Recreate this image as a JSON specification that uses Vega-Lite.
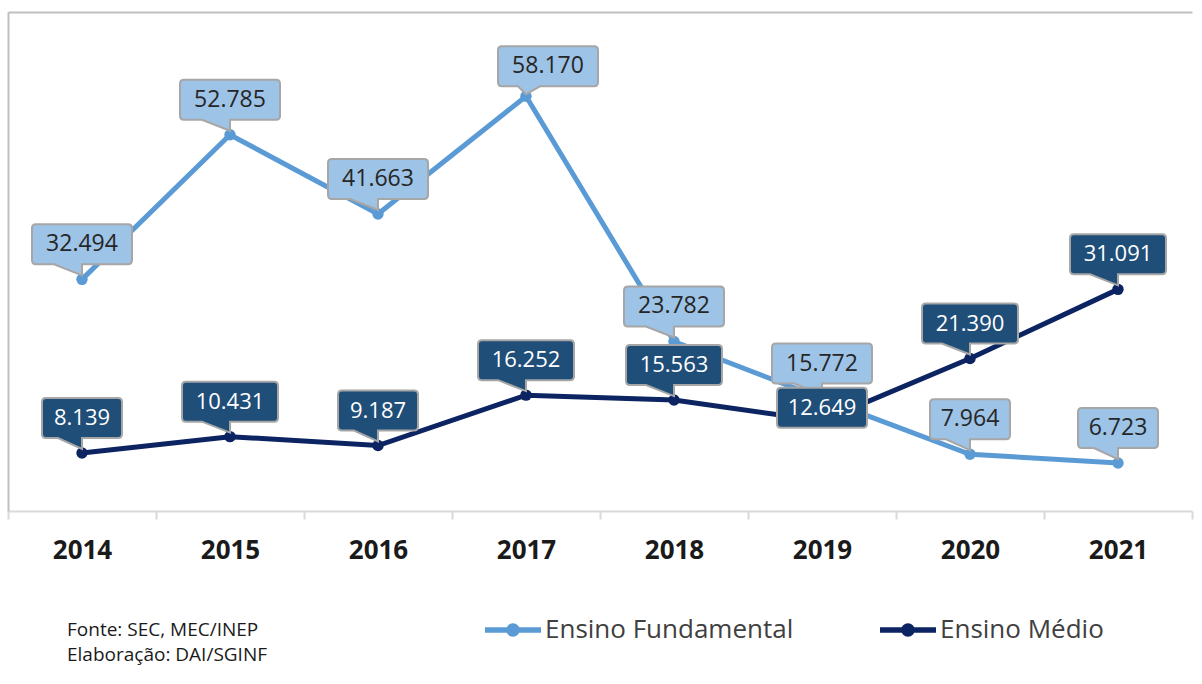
{
  "$schema": "https://vega.github.io/schema/vega-lite/v6.json",
  "width": 1184,
  "height": 499,
  "autosize": {"type": "none"},
  "padding": {"left": 8, "top": 12, "right": 10, "bottom": 173},
  "background": "white",
  "config": {
    "font": "Open Sans",
    "view": {"stroke": null},
    "locale": {"number": {"decimal": ",", "thousands": ".", "grouping": [3], "currency": ["R$", ""]}}
  },
  "title": {
    "text": ["Fonte: SEC, MEC/INEP", "Elaboração: DAI/SGINF"],
    "orient": "bottom",
    "anchor": "start",
    "frame": "group",
    "dx": 59,
    "offset": -22,
    "fontSize": 19,
    "fontWeight": "normal",
    "lineHeight": 25,
    "color": "#1a1a1a",
    "font": "Open Sans"
  },
  "data": {
    "values": [
      {"ano": "2014", "serie": "Ensino Fundamental", "v": 32494},
      {"ano": "2015", "serie": "Ensino Fundamental", "v": 52785},
      {"ano": "2016", "serie": "Ensino Fundamental", "v": 41663},
      {"ano": "2017", "serie": "Ensino Fundamental", "v": 58170},
      {"ano": "2018", "serie": "Ensino Fundamental", "v": 23782},
      {"ano": "2019", "serie": "Ensino Fundamental", "v": 15772},
      {"ano": "2020", "serie": "Ensino Fundamental", "v": 7964},
      {"ano": "2021", "serie": "Ensino Fundamental", "v": 6723},
      {"ano": "2014", "serie": "Ensino Médio", "v": 8139},
      {"ano": "2015", "serie": "Ensino Médio", "v": 10431},
      {"ano": "2016", "serie": "Ensino Médio", "v": 9187},
      {"ano": "2017", "serie": "Ensino Médio", "v": 16252},
      {"ano": "2018", "serie": "Ensino Médio", "v": 15563},
      {"ano": "2019", "serie": "Ensino Médio", "v": 12649},
      {"ano": "2020", "serie": "Ensino Médio", "v": 21390},
      {"ano": "2021", "serie": "Ensino Médio", "v": 31091}
    ]
  },
  "encoding": {
    "x": {"field": "ano", "type": "ordinal", "bandPosition": 0.5,
          "scale": {"type": "band", "paddingInner": 0, "paddingOuter": 0}, "axis": null},
    "y": {"field": "v", "type": "quantitative",
          "scale": {"domain": [0, 70000], "nice": false, "zero": true},
          "axis": {"orient": "left", "domain": true, "domainColor": "#BFBFBF", "domainWidth": 2,
                   "ticks": false, "labels": false, "grid": false, "title": null}}
  },
  "layer": [
    {
      "mark": {"type": "line", "strokeWidth": 5},
      "encoding": {
        "x": {"field": "ano", "type": "ordinal", "bandPosition": 0.5,
              "scale": {"type": "band", "paddingInner": 0, "paddingOuter": 0},
              "axis": {"orient": "bottom", "title": null, "domainColor": "#D9D9D9", "domainWidth": 2,
                       "tickBand": "extent", "tickColor": "#D9D9D9", "tickWidth": 2, "tickSize": 8,
                       "labelFontSize": 26, "labelFontWeight": "bold", "labelColor": "#1a1a1a",
                       "labelPadding": 18, "labelAngle": 0, "grid": false}},
        "color": {"field": "serie", "type": "nominal",
                  "scale": {"domain": ["Ensino Fundamental", "Ensino Médio"], "range": ["#5B9BD5", "#0C2461"]},
                  "legend": {"orient": "none", "legendX": 477, "legendY": 590, "direction": "horizontal",
                             "title": null, "labelFontSize": 26, "labelColor": "#404040", "labelLimit": 400,
                             "labelOffset": 4, "columnPadding": 86, "symbolSize": 3136,
                             "symbolType": "M-1,-0.1 L1,-0.1 L1,0.1 L-1,0.1 Z M0.24,0 A0.24,0.24 0 1 1 -0.24,0 A0.24,0.24 0 1 1 0.24,0 Z",
                             "symbolStrokeWidth": 0,
                             "encode": {"symbols": {"update": {"fill": {"scale": "color", "field": "value"}, "strokeWidth": {"value": 0}}}}}}
      }
    },
    {
      "mark": {"type": "point", "filled": true, "size": 130, "opacity": 1},
      "encoding": {
        "x": {"field": "ano", "type": "ordinal", "bandPosition": 0.5,
              "scale": {"type": "band", "paddingInner": 0, "paddingOuter": 0},
              "axis": {"orient": "top", "title": null, "domainColor": "#BFBFBF", "domainWidth": 2,
                       "ticks": false, "labels": false, "grid": false}},
        "color": {"field": "serie", "type": "nominal", "legend": null}
      }
    },
    {
      "transform": [{"filter": "datum.serie == 'Ensino Fundamental'"}],
      "mark": {"type": "point", "filled": true, "size": 4, "fill": "#9DC3E6", "stroke": "#A6A6A6", "strokeWidth": 2, "opacity": 1},
      "encoding": {
        "shape": {
          "condition": [
            {"test": "datum.ano == '2017'", "value": "M-24,-50 L68,-50 Q72,-50 72,-46 L72,-14 Q72,-10 68,-10 L14,-10 L0,-2 L-8,-10 L-24,-10 Q-28,-10 -28,-14 L-28,-46 Q-28,-50 -24,-50 Z"},
            {"test": "datum.v < 10000", "value": "M-36,-55 L36,-55 Q40,-55 40,-51 L40,-19 Q40,-15 36,-15 L0,-15 L0,-4 L-24,-15 L-36,-15 Q-40,-15 -40,-19 L-40,-51 Q-40,-55 -36,-55 Z"}
          ],
          "value": "M-46,-55 L46,-55 Q50,-55 50,-51 L50,-19 Q50,-15 46,-15 L0,-15 L0,-4 L-28,-15 L-46,-15 Q-50,-15 -50,-19 L-50,-51 Q-50,-55 -46,-55 Z"
        }
      }
    },
    {
      "transform": [{"filter": "datum.serie == 'Ensino Fundamental' && datum.ano != '2017'"}],
      "mark": {"type": "text", "dy": -35, "fontSize": 23, "color": "#262626", "baseline": "middle", "align": "center"},
      "encoding": {"text": {"field": "v", "type": "quantitative", "format": ",d"}}
    },
    {
      "transform": [{"filter": "datum.serie == 'Ensino Fundamental' && datum.ano == '2017'"}],
      "mark": {"type": "text", "dy": -30, "dx": 22, "fontSize": 23, "color": "#262626", "baseline": "middle", "align": "center"},
      "encoding": {"text": {"field": "v", "type": "quantitative", "format": ",d"}}
    },
    {
      "transform": [{"filter": "datum.serie == 'Ensino Médio'"}],
      "mark": {"type": "point", "filled": true, "size": 4, "fill": "#1F4E79", "stroke": "#A6A6A6", "strokeWidth": 2, "opacity": 1},
      "encoding": {
        "shape": {
          "condition": [
            {"test": "datum.ano == '2019'", "value": "M-41,-33 L41,-33 Q45,-33 45,-29 L45,3 Q45,7 41,7 L-41,7 Q-45,7 -45,3 L-45,-29 Q-45,-33 -41,-33 Z"},
            {"test": "datum.v < 10000", "value": "M-36,-55 L36,-55 Q40,-55 40,-51 L40,-19 Q40,-15 36,-15 L0,-15 L0,-4 L-24,-15 L-36,-15 Q-40,-15 -40,-19 L-40,-51 Q-40,-55 -36,-55 Z"}
          ],
          "value": "M-44,-55 L44,-55 Q48,-55 48,-51 L48,-19 Q48,-15 44,-15 L0,-15 L0,-4 L-28,-15 L-44,-15 Q-48,-15 -48,-19 L-48,-51 Q-48,-55 -44,-55 Z"
        }
      }
    },
    {
      "transform": [{"filter": "datum.serie == 'Ensino Médio' && datum.ano != '2019'"}],
      "mark": {"type": "text", "dy": -35, "fontSize": 22, "color": "#FFFFFF", "baseline": "middle", "align": "center"},
      "encoding": {"text": {"field": "v", "type": "quantitative", "format": ",d"}}
    },
    {
      "transform": [{"filter": "datum.serie == 'Ensino Médio' && datum.ano == '2019'"}],
      "mark": {"type": "text", "dy": -13, "fontSize": 22, "color": "#FFFFFF", "baseline": "middle", "align": "center"},
      "encoding": {"text": {"field": "v", "type": "quantitative", "format": ",d"}}
    }
  ],
  "resolve": {"axis": {"x": "independent"}}
}
